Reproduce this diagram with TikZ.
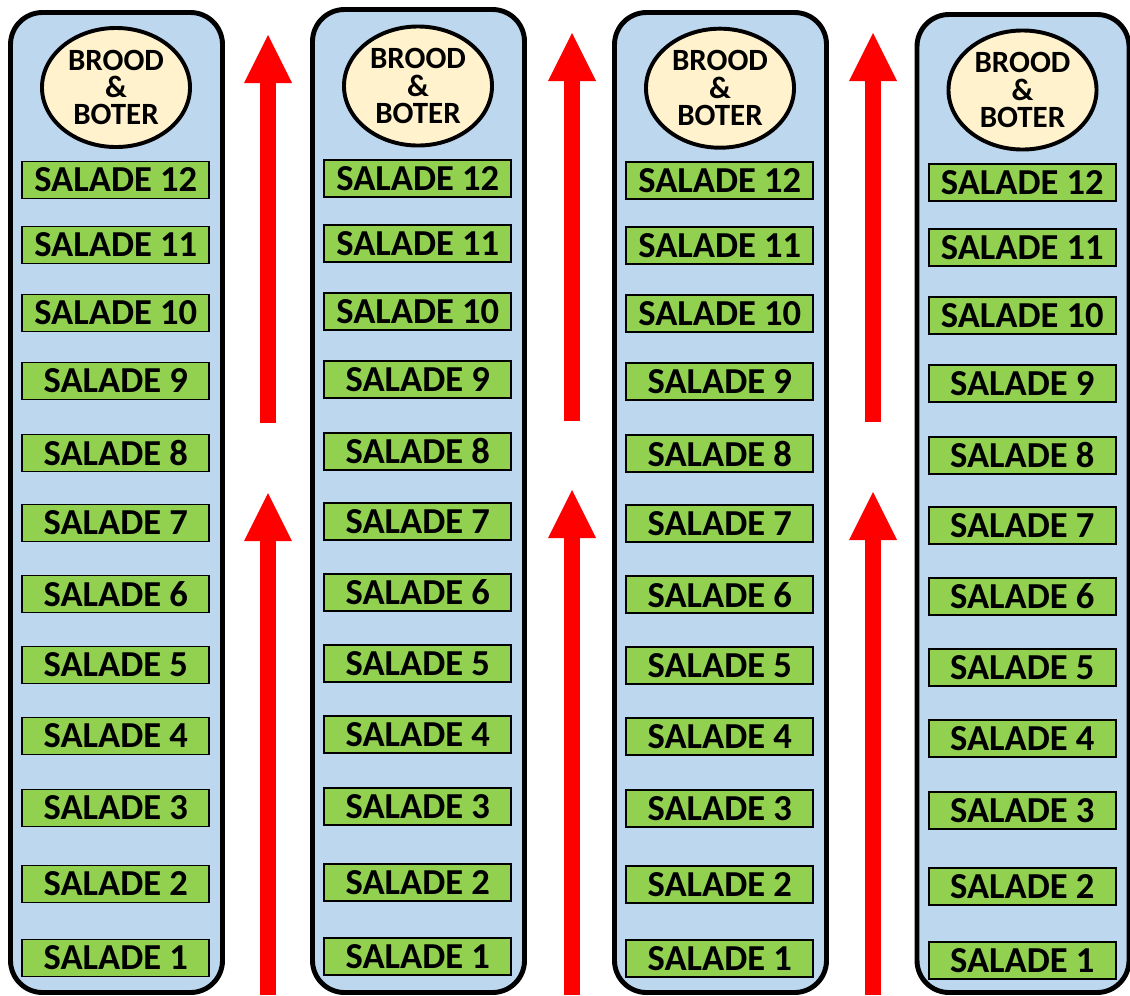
\documentclass[tikz,border=0pt]{standalone}
\usepackage{fontspec}
\setmainfont{Carlito}
\usetikzlibrary{arrows.meta,shapes.geometric}

\definecolor{laneblue}{HTML}{BDD7EE}
\definecolor{breadcream}{HTML}{FFF2CC}
\definecolor{saladgreen}{HTML}{92D050}

\tikzset{
  lane/.style={draw, line width=3.5pt, rounded corners=0.8cm, fill=laneblue},
  bread/.style={ellipse, draw, line width=2.8pt, fill=breadcream, minimum width=3.7cm,
    minimum height=2.975cm, inner sep=0pt, align=center,
    font=\fontsize{22}{19.5}\selectfont\bfseries},
  salad/.style={draw, line width=1.3pt, fill=saladgreen, minimum width=4.675cm,
    minimum height=0.925cm, inner sep=0pt, font=\fontsize{26}{26}\selectfont\bfseries},
  flow/.style={draw=red, line width=0.4cm,
    -{Triangle[width=1.2cm,length=1.2cm,line width=0pt]}},
}

\begin{document}
\begin{tikzpicture}[x=0.025cm, y=-0.025cm]

\useasboundingbox (0,0) rectangle (1130,995);

% four tables
\foreach \c/\x/\top/\dy in {1/116.5/12.5/0, 2/418.5/9.5/-1.5, 3/720.5/12.5/0.7, 4/1023/14.5/2.5}{
  \draw[lane] (\x-106,\top) rectangle (\x+106,992.5);
  \node[bread] (bread\c) at (\x-0.5,87.5+\dy) {BROOD\\\&\\BOTER};
  \foreach \n/\y in {12/180, 11/245, 10/313, 9/381, 8/453, 7/523,
                     6/594, 5/665, 4/736, 3/808, 2/884, 1/958}
    \node[salad] (salad\c-\n) at (\x-0.7,\y+\dy) {SALADE \n};
}

% walking direction
\foreach \a/\x/\e/\t/\u in {1/268/423/35/493, 2/572/421/33/490, 3/873/422/33/492}{
  \coordinate (lowA\a) at (\x,995);
  \coordinate (lowB\a) at (\x,\u);
  \coordinate (upA\a) at (\x,\e);
  \coordinate (upB\a) at (\x,\t);
  \draw[flow] (lowA\a) -- (lowB\a);
  \draw[flow] (upA\a) -- (upB\a);
}

\end{tikzpicture}
\end{document}
